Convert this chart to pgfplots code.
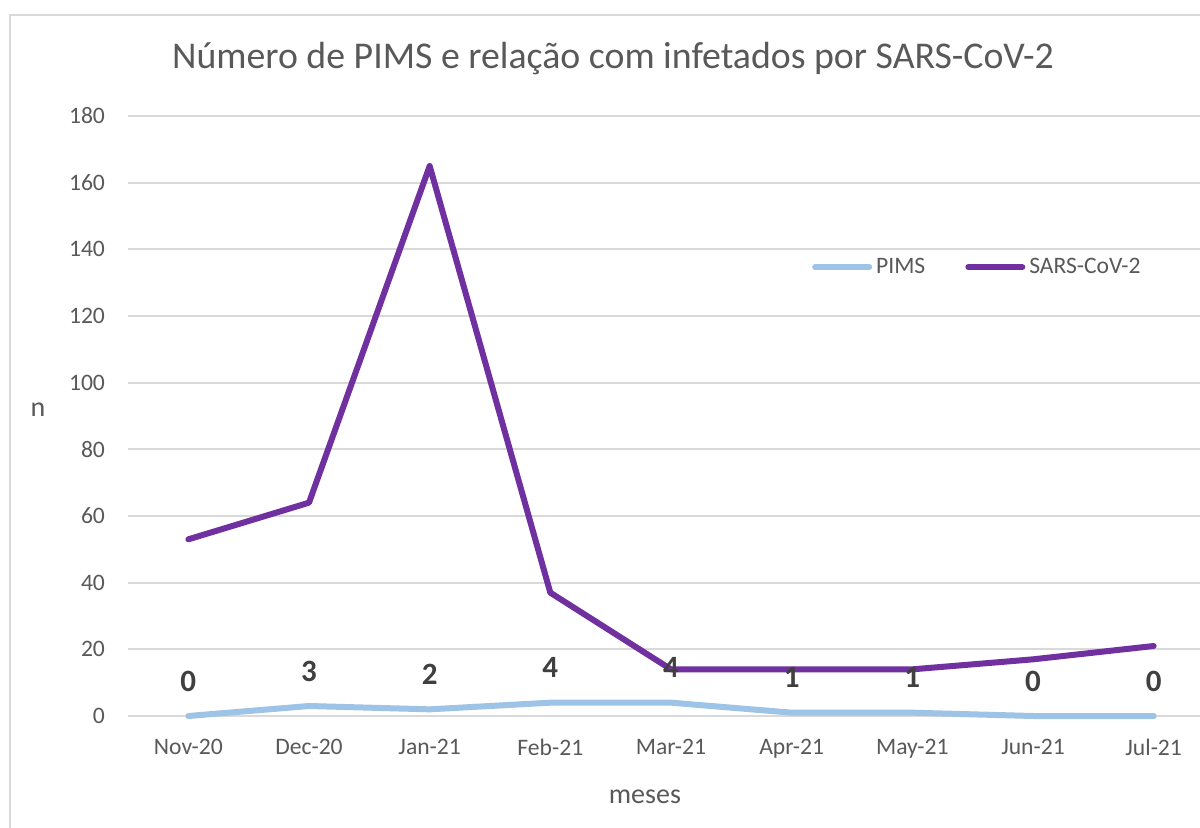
\documentclass[border=0pt]{standalone}
\usepackage{pgfplots}
\pgfplotsset{compat=1.18}
\usepackage{fontspec}
\setmainfont{Carlito}
\definecolor{gridgray}{HTML}{D9D9D9}
\definecolor{txtgray}{HTML}{595959}
\definecolor{lblgray}{HTML}{404040}
\definecolor{pims}{HTML}{9DC3E6}
\definecolor{sars}{HTML}{7030A0}
\begin{document}
\begin{tikzpicture}
\path[use as bounding box] (0,0) rectangle (600pt,413.5pt);
\clip (0,0) rectangle (600pt,413.5pt);
\fill[white] (0,0) rectangle (600pt,413.5pt);
\draw[gridgray, line width=1pt] (5pt,-10pt) rectangle (640pt,406pt);
\begin{axis}[
  at={(64pt,55.5pt)}, anchor=south west,
  scale only axis, width=543pt, height=300pt,
  xmin=-0.5, xmax=8.5, ymin=0, ymax=180,
  xtick={0,...,8},
  xticklabels={Nov-20,Dec-20,Jan-21,Feb-21,Mar-21,Apr-21,May-21,Jun-21,Jul-21},
  ytick={0,20,...,180},
  axis line style={draw=none},
  major tick length=0pt,
  ymajorgrids, grid style={gridgray, line width=1pt},
  tick label style={font=\fontsize{11.8}{14}\selectfont, text=txtgray},
  /pgf/number format/assume math mode=true,
  xticklabel style={yshift=-8pt},
  yticklabel style={xshift=-8pt},
  title={Número de PIMS e relação com infetados por SARS-CoV-2},
  title style={font=\fontsize{18.9}{22}\selectfont, text=txtgray, at={(axis description cs:0.4466,1.076)}, anchor=center},
  xlabel={meses},
  xlabel style={font=\fontsize{14}{17}\selectfont, text=txtgray, at={(axis description cs:0.476,-0.135)}, anchor=center},
  ylabel={n},
  ylabel style={font=\fontsize{14}{17}\selectfont, text=txtgray, at={(axis description cs:-0.0829,0.51)}, anchor=center, rotate=-90},
  legend columns=2,
  legend style={draw=none, fill=none, at={(axis description cs:0.783,0.748)}, anchor=center,
    font=\fontsize{11.8}{14}\selectfont, text=txtgray,
    /tikz/every even column/.append style={column sep=18pt}},
  legend image code/.code={\draw[#1, line cap=round] (0pt,0pt) -- (27pt,0pt);},
  clip=false,
]
\addplot[pims, line width=3pt, line join=round, line cap=round] coordinates {
(0,0) (1,3) (2,2) (3,4) (4,4) (5,1) (6,1) (7,0) (8,0)};
\addlegendentry{PIMS}
\addplot[sars, line width=3pt, line join=round, line cap=round] coordinates {
(0,53) (1,64) (2,165) (3,37) (4,14) (5,14) (6,14) (7,17) (8,21)};
\addlegendentry{SARS-CoV-2}
\addplot[draw=none, forget plot,
  nodes near coords,
  every node near coord/.append style={anchor=center, yshift=17.5pt, font=\fontsize{15.5}{18}\selectfont\bfseries, text=lblgray}]
  coordinates {(0,0) (1,3) (2,2) (3,4) (4,4) (5,1) (6,1) (7,0) (8,0)};
\end{axis}
\end{tikzpicture}
\end{document}
